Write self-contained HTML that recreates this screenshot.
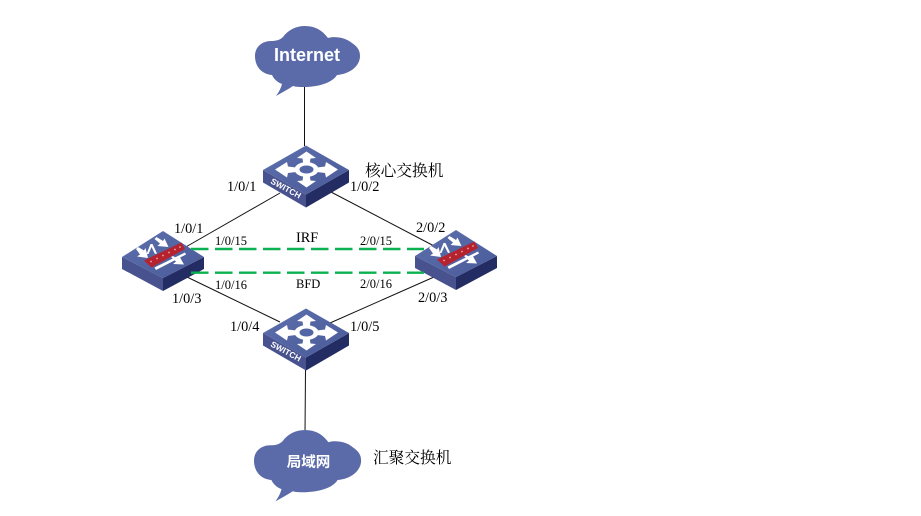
<!DOCTYPE html>
<html>
<head>
<meta charset="utf-8">
<style>
html,body{margin:0;padding:0;background:#fff;width:921px;height:516px;overflow:hidden}
svg{display:block}
.t{font-family:"Liberation Serif","Noto Serif CJK SC",serif;fill:#000}
.l{font-size:14.300px}
.s{font-size:12.500px}
.c{font-family:"Liberation Serif","Noto Serif CJK SC",serif;font-size:15.700px;fill:#000}
.w{font-family:"Liberation Sans","Noto Sans CJK SC",sans-serif;font-weight:bold;fill:#fff}
</style>
</head>
<body>
<svg width="921" height="516" viewBox="0 0 921 516" xmlns="http://www.w3.org/2000/svg">
<defs>
  <linearGradient id="top" x1="0" y1="0" x2="1" y2="1">
    <stop offset="0" stop-color="#5d6fac"/><stop offset="1" stop-color="#4a5a9a"/>
  </linearGradient>
  <g id="l3">
    <path d="M0 24.500 L43 49 L43 62 L0 37 Z" fill="#47528f"/>
    <path d="M86 24.500 L43 49 L43 62 L86 37 Z" fill="#232c63"/>
    <path d="M43 0 L86 24.500 L43 49 L0 24.500 Z" fill="url(#top)"/>
    <g fill="#fff">
      <path d="M43.500 6 L53 12.500 L47.500 13 L46.500 19 L40.500 19 L39.500 13 L34 12.500 Z"/>
      <path d="M43.500 42 L53 35.500 L47.500 35 L46.500 29 L40.500 29 L39.500 35 L34 35.500 Z"/>
      <path d="M12 24 L24 16.500 L25 21 L33 22 L33 26.500 L25 27.500 L24 32 Z"/>
      <path d="M75 24 L63 16.500 L62 21 L54 22 L54 26.500 L62 27.500 L63 32 Z"/>
    </g>
    <ellipse cx="43.500" cy="24" rx="12" ry="7.500" fill="#fff"/>
    <ellipse cx="43.500" cy="24" rx="7" ry="4" fill="#5265a5"/>
    <text transform="translate(7 37.500) rotate(28.500)" class="w" font-size="8.400">SWITCH</text>
  </g>
  <g id="l2">
    <path d="M0 26 L41 47 L41 60 L0 38 Z" fill="#47528f"/>
    <path d="M82 26 L41 47 L41 60 L82 38 Z" fill="#232c63"/>
    <path d="M41 0 L82 26 L41 47 L0 26 Z" fill="url(#top)"/>
    <path d="M22 29.500 L59.500 11.500 L63 18 L29.500 36.500 Z" fill="#b5232f"/>
    <g fill="#e8a6ab">
      <circle cx="29" cy="30.500" r="0.900"/><circle cx="35" cy="27.500" r="0.900"/><circle cx="41" cy="24.500" r="0.900"/>
      <circle cx="47" cy="21.500" r="0.900"/><circle cx="53" cy="18.500" r="0.900"/><circle cx="58" cy="16" r="0.900"/>
    </g>
    <g fill="#fff">
      <path d="M14 18 L16 16 L22 19.500 L23.500 17 L26 27 L15 25.500 L18 23.500 Z"/>
      <path d="M24.500 23 L28.500 13 L30.500 13 L35 22.500 L33 23 L29.500 16 L26.500 23 Z"/>
      <path d="M32.500 8 L34.500 6 L41 10 L42.500 7.500 L46.500 16 L35.500 15 L38 12.500 Z"/>
      <path d="M32.500 36.500 L63 21.500 L64 23.500 L34 39 Z"/>
      <path d="M49 26 L51 25 L56 28 L57.500 25.500 L62 33.500 L51 33 L54 30.500 Z"/>
    </g>
  </g>
  <path id="cloud" d="M272 75 C261 74 255 66 255 56 C255 47 262 41 271 41 C276 41 280 40 283 37 C288 30 296 26 305 26 C315 26 322 30 328 38 C334 36 345 37 352 43 C358 47 360 51 360 56 C360 66 350 74 337 75 C332 83 318 87 303 87 C300 87 296 87 293 86 C287 90 281 93 276 96 C279 92 281 88 282 84 C277 82 274 79 272 75 Z" fill="#5b6ba9"/>
</defs>

<!-- connectors -->
<g stroke="#111" stroke-width="1" fill="none">
  <line x1="304.500" y1="84" x2="304.500" y2="146"/>
  <line x1="280" y1="193" x2="184" y2="248"/>
  <line x1="331" y1="192" x2="436" y2="247"/>
  <line x1="187" y1="277" x2="280" y2="322"/>
  <line x1="330" y1="323" x2="434" y2="277"/>
  <line x1="305.500" y1="370" x2="305" y2="434"/>
</g>

<!-- clouds -->
<use href="#cloud"/>
<text x="307" y="61" text-anchor="middle" class="w" font-size="18">Internet</text>

<use href="#cloud" transform="translate(254 430) scale(1.02) translate(-255 -26)"/>
<text x="308.500" y="467" text-anchor="middle" class="w" font-size="14.500">局域网</text>

<!-- devices -->
<use href="#l3" transform="translate(263 145.500)"/>
<use href="#l3" transform="translate(263 308.500)"/>
<use href="#l2" transform="translate(122 231)"/>
<use href="#l2" transform="translate(415 230)"/>

<g stroke="#0bb050" stroke-width="2.400" stroke-dasharray="17.500 6.500" fill="none">
  <line x1="191" y1="249" x2="424" y2="249"/>
  <line x1="191" y1="272.700" x2="424" y2="272.700"/>
</g>

<!-- labels -->
<text x="365" y="176" class="c">核心交换机</text>
<text x="373" y="463" class="c">汇聚交换机</text>

<text x="227" y="191" class="t l">1/0/1</text>
<text x="350" y="191" class="t l">1/0/2</text>
<text x="174" y="233" class="t l">1/0/1</text>
<text x="416" y="232" class="t l">2/0/2</text>
<text x="172" y="303" class="t l">1/0/3</text>
<text x="418" y="302" class="t l">2/0/3</text>
<text x="230" y="331" class="t l">1/0/4</text>
<text x="350" y="331" class="t l">1/0/5</text>

<text x="215" y="245" class="t s">1/0/15</text>
<text x="360" y="245" class="t s">2/0/15</text>
<text x="215" y="289" class="t s">1/0/16</text>
<text x="360" y="288" class="t s">2/0/16</text>
<text x="296" y="242" class="t l">IRF</text>
<text x="296" y="288" class="t s">BFD</text>
</svg>
</body>
</html>
